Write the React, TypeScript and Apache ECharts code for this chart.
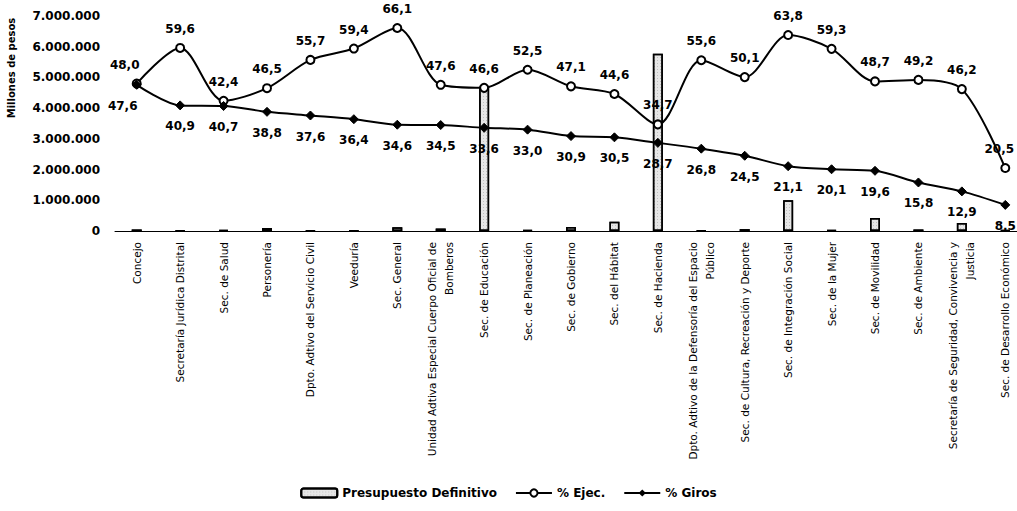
import React, { useEffect, useRef } from "react";
import * as echarts from "echarts";

const categories = [
  "Concejo",
  "Secretaría Jurídica Distrital",
  "Sec. de Salud",
  "Personería",
  "Dpto. Adtivo del Servicio Civil",
  "Veeduría",
  "Sec. General",
  "Unidad Adtiva Especial Cuerpo Oficial de\nBomberos",
  "Sec. de Educación",
  "Sec. de Planeación",
  "Sec. de Gobierno",
  "Sec. del Hábitat",
  "Sec. de Hacienda",
  "Dpto. Adtivo de la Defensoría del Espacio\nPúblico",
  "Sec. de Cultura, Recreación y Deporte",
  "Sec. de Integración Social",
  "Sec. de la Mujer",
  "Sec. de Movilidad",
  "Sec. de Ambiente",
  "Secretaría de Seguridad, Convivencia y\nJusticia",
  "Sec. de Desarrollo Económico",
];

const presupuestoDefinitivo = [
  50000, 20000, 40000, 100000, 20000, 15000, 120000, 80000, 4700000, 30000,
  130000, 300000, 5770000, 20000, 60000, 1000000, 30000, 420000, 50000, 260000,
  30000,
];

const pctEjec = [
  48.0, 59.6, 42.4, 46.5, 55.7, 59.4, 66.1, 47.6, 46.6, 52.5, 47.1, 44.6, 34.7,
  55.6, 50.1, 63.8, 59.3, 48.7, 49.2, 46.2, 20.5,
];

const pctGiros = [
  47.6, 40.9, 40.7, 38.8, 37.6, 36.4, 34.6, 34.5, 33.6, 33.0, 30.9, 30.5, 28.7,
  26.8, 24.5, 21.1, 20.1, 19.6, 15.8, 12.9, 8.5,
];

const yTicks = { min: 0, max: 7000000, interval: 1000000 };

const FONT = "DejaVu Sans";

function fmtThousands(v: number): string {
  return String(Math.round(v)).replace(/\B(?=(\d{3})+(?!\d))/g, ".");
}
function fmtPct(v: number): string {
  return v.toFixed(1).replace(".", ",");
}

export default function App() {
  const ref = useRef<HTMLDivElement>(null);

  useEffect(() => {
    if (!ref.current) return;
    const chart = echarts.init(ref.current, null, { renderer: "svg" });

    const labelStyle = {
      show: true,
      fontFamily: FONT,
      fontWeight: "bold" as const,
      fontSize: 12,
      color: "#000",
      formatter: (p: any) => fmtPct(p.value),
    };

    const last = pctEjec.length - 1;
    const ejecData = pctEjec.map((v, i) =>
      i === 0
        ? { value: v, label: { offset: [-12, 0] } }
        : i === last
        ? { value: v, label: { offset: [-6, 0] } }
        : v
    );
    const girosData = pctGiros.map((v, i) =>
      i === 0 ? { value: v, label: { offset: [-14, 0] } } : v
    );

    chart.setOption({
      animation: false,
      backgroundColor: "#fff",
      grid: {
        left: 115,
        right: -10,
        top: 16,
        bottom: 280,
        containLabel: false,
        outerBoundsMode: "none",
      },
      legend: {
        top: 482,
        left: "center",
        itemWidth: 36,
        itemHeight: 9,
        itemGap: 18,
        textStyle: {
          fontFamily: FONT,
          fontWeight: "bold",
          fontSize: 12,
          color: "#000",
        },
        data: [
          { name: "Presupuesto Definitivo" },
          { name: "% Ejec." },
          { name: "% Giros" },
        ],
      },
      xAxis: {
        type: "category",
        data: categories,
        boundaryGap: true,
        axisLine: { show: true, lineStyle: { color: "#000", width: 1 } },
        axisTick: { show: false },
        axisLabel: {
          interval: 0,
          rotate: 90,
          margin: 11,
          fontFamily: FONT,
          fontSize: 10.5,
          color: "#000",
          lineHeight: 17,
        },
      },
      yAxis: [
        {
          type: "value",
          min: yTicks.min,
          max: yTicks.max,
          interval: yTicks.interval,
          splitLine: { show: false },
          axisLine: { show: false },
          axisTick: { show: false },
          axisLabel: {
            margin: 15,
            fontFamily: FONT,
            fontWeight: "bold",
            fontSize: 12,
            color: "#000",
            formatter: (v: number) => fmtThousands(v),
          },
        },
        {
          type: "value",
          min: 0,
          max: 70,
          interval: 10,
          show: false,
          splitLine: { show: false },
        },
      ],
      graphic: [
        {
          type: "text",
          x: 11,
          y: 68,
          rotation: Math.PI / 2,
          style: {
            text: "Millones de pesos",
            fontFamily: FONT,
            fontWeight: "bold",
            fontSize: 10,
            fill: "#000",
            align: "center",
            verticalAlign: "middle",
          },
        },
      ],
      series: [
        {
          name: "Presupuesto Definitivo",
          type: "bar",
          yAxisIndex: 0,
          barWidth: 10,
          data: presupuestoDefinitivo,
          itemStyle: {
            color: "#e6e6e6",
            borderColor: "#000",
            borderWidth: 1.5,
            decal: {
              symbol: "rect",
              symbolSize: 0.6,
              color: "rgba(0,0,0,0.55)",
              dashArrayX: [1, 2],
              dashArrayY: [1, 2],
              rotation: 0,
            },
          },
        },
        {
          name: "% Ejec.",
          type: "line",
          yAxisIndex: 1,
          smooth: 0.3,
          data: ejecData,
          symbol: "circle",
          symbolSize: 8,
          lineStyle: { color: "#000", width: 2 },
          itemStyle: { color: "#fff", borderColor: "#000", borderWidth: 2 },
          label: { ...labelStyle, position: "top", distance: 8 },
          z: 3,
        },
        {
          name: "% Giros",
          type: "line",
          yAxisIndex: 1,
          smooth: 0.3,
          data: girosData,
          symbol: "diamond",
          symbolSize: 9,
          lineStyle: { color: "#000", width: 2 },
          itemStyle: { color: "#000", borderColor: "#000" },
          label: { ...labelStyle, position: "bottom", distance: 10 },
          z: 3,
        },
      ],
    });

    return () => chart.dispose();
  }, []);

  return (
    <div
      ref={ref}
      style={{ position: "fixed", left: 0, top: 0, width: 1017, height: 511 }}
    />
  );
}
